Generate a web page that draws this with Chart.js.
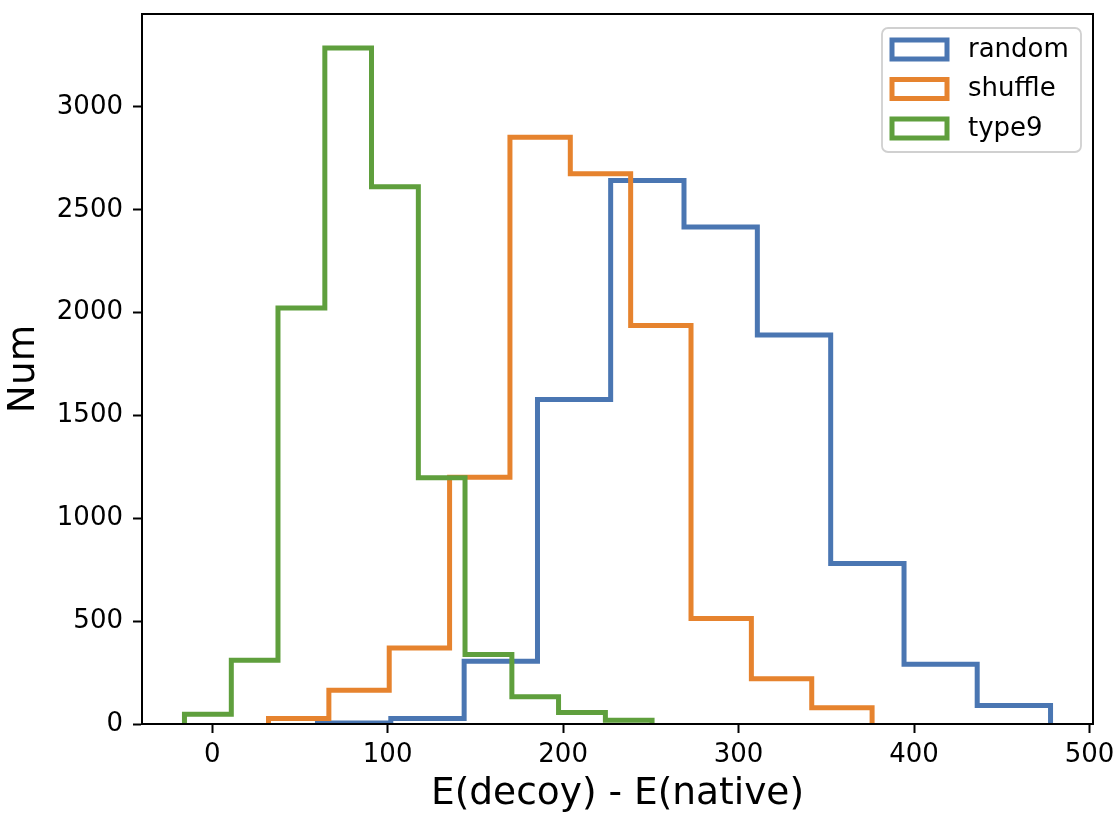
<!DOCTYPE html>
<html>
<head>
<meta charset="utf-8">
<script src="https://cdn.jsdelivr.net/npm/chart.js@4.4.0/dist/chart.umd.min.js"></script>
<style>
  body { margin: 0; background: #fff; }
</style>
</head>
<body>
<canvas id="histChart" width="1115" height="814"></canvas>
<script>
// histogram data (bin edges + counts per bin)
const seriesNames = ['random', 'shuffle', 'type9'];
const seriesColors = ['#4a76b2', '#e6832e', '#5f9f3d'];

const randomEdges = [60.0, 101.8, 143.6, 185.4, 227.1, 268.9, 310.7, 352.5, 394.3, 436.0, 477.8];
const randomCounts = [5, 27, 305, 1578, 2642, 2417, 1891, 780, 290, 90];

const shuffleEdges = [32.1, 66.5, 100.9, 135.3, 169.7, 204.1, 238.5, 272.9, 307.3, 341.7, 376.1];
const shuffleCounts = [27, 164, 370, 1200, 2853, 2675, 1938, 513, 220, 79];

const type9Edges = [-15.8, 10.9, 37.5, 64.2, 90.8, 117.5, 144.1, 170.8, 197.4, 224.1, 250.7];
const type9Counts = [48, 310, 2023, 3287, 2612, 1197, 338, 132, 56, 18];

const xTicks = [0, 100, 200, 300, 400, 500];
const yTicks = [0, 500, 1000, 1500, 2000, 2500, 3000];

// outline like matplotlib histtype='step'
function stepOutline(edges, counts) {
    const pts = [{ x: edges[0], y: 0 }];
    counts.forEach(function (c, i) {
        pts.push({ x: edges[i], y: c });
        pts.push({ x: edges[i + 1], y: c });
    });
    pts.push({ x: edges[edges.length - 1], y: 0 });
    return pts;
}

const allEdges = [randomEdges, shuffleEdges, type9Edges];
const allCounts = [randomCounts, shuffleCounts, type9Counts];

Chart.defaults.font.family = '"DejaVu Sans", sans-serif';
Chart.defaults.color = '#000';

// frame + legend box drawn inside the axes
const framePlugin = {
    id: 'frameAndLegend',
    afterDraw(chart) {
        const ctx = chart.ctx;
        const a = chart.chartArea;
        ctx.save();
        ctx.strokeStyle = '#000';
        ctx.lineWidth = 2;
        ctx.strokeRect(a.left, a.top, a.right - a.left, a.bottom - a.top);

        // legend
        const bx = a.right - 211, by = a.top + 14, bw = 199, bh = 124, r = 6;
        ctx.beginPath();
        ctx.moveTo(bx + r, by);
        ctx.arcTo(bx + bw, by, bx + bw, by + bh, r);
        ctx.arcTo(bx + bw, by + bh, bx, by + bh, r);
        ctx.arcTo(bx, by + bh, bx, by, r);
        ctx.arcTo(bx, by, bx + bw, by, r);
        ctx.closePath();
        ctx.fillStyle = 'rgba(255,255,255,0.8)';
        ctx.fill();
        ctx.strokeStyle = '#d0d0d0';
        ctx.lineWidth = 1.8;
        ctx.stroke();

        ctx.font = '26px "DejaVu Sans"';
        ctx.textBaseline = 'middle';
        ctx.textAlign = 'left';
        seriesNames.forEach(function (name, i) {
            const cy = by + 21 + i * 39.5;
            ctx.fillStyle = '#fff';
            ctx.fillRect(bx + 10, cy - 9, 55, 19);
            ctx.strokeStyle = seriesColors[i];
            ctx.lineWidth = 5;
            ctx.strokeRect(bx + 10, cy - 9, 55, 19);
            ctx.fillStyle = '#000';
            ctx.fillText(name, bx + 86, cy + 1);
        });
        ctx.restore();
    }
};

const ctx = document.getElementById('histChart').getContext('2d');

const histChart = new Chart(ctx, {
    type: 'line',
    data: {
        datasets: seriesNames.map(function (name, i) {
            return {
                label: name,
                data: stepOutline(allEdges[i], allCounts[i]),
                borderColor: seriesColors[i],
                backgroundColor: seriesColors[i],
                borderWidth: 5,
                borderJoinStyle: 'miter',
                pointRadius: 0,
                fill: false,
                tension: 0,
                order: seriesNames.length - i
            };
        })
    },
    options: {
        responsive: false,
        animation: false,
        events: [],
        layout: { padding: { top: 14, right: 22, left: 0, bottom: 0 } },
        plugins: {
            legend: { display: false },
            tooltip: { enabled: false }
        },
        scales: {
            x: {
                type: 'linear',
                min: -40,
                max: 502,
                afterBuildTicks: function (scale) {
                    scale.ticks = xTicks.map(v => ({ value: v }));
                },
                afterFit: function (scale) {
                    scale.height = 90;
                    scale.paddingLeft = 0;
                    scale.paddingRight = 0;
                },
                grid: {
                    drawOnChartArea: false,
                    drawTicks: true,
                    tickLength: 9,
                    tickWidth: 2,
                    tickColor: '#000'
                },
                border: { display: true, color: '#000', width: 2 },
                ticks: {
                    padding: 7,
                    maxRotation: 0,
                    font: { size: 26 },
                    callback: v => String(v)
                },
                title: {
                    display: true,
                    text: 'E(decoy) - E(native)',
                    font: { size: 37.5, lineHeight: 1.0 },
                    padding: { top: 0, bottom: 1 }
                }
            },
            y: {
                type: 'linear',
                min: 0,
                max: 3452,
                afterBuildTicks: function (scale) {
                    scale.ticks = yTicks.map(v => ({ value: v }));
                },
                afterFit: function (scale) {
                    scale.width = 142;
                    scale.paddingTop = 0;
                    scale.paddingBottom = 0;
                },
                grid: {
                    drawOnChartArea: false,
                    drawTicks: true,
                    tickLength: 9,
                    tickWidth: 2,
                    tickColor: '#000'
                },
                border: { display: true, color: '#000', width: 2 },
                ticks: {
                    padding: 10,
                    font: { size: 26 },
                    callback: v => String(v)
                },
                title: {
                    display: true,
                    text: 'Num',
                    font: { size: 37.5, lineHeight: 1.0 },
                    padding: { top: 6, bottom: 0 }
                }
            }
        }
    },
    plugins: [framePlugin]
});
</script>
</body>
</html>
